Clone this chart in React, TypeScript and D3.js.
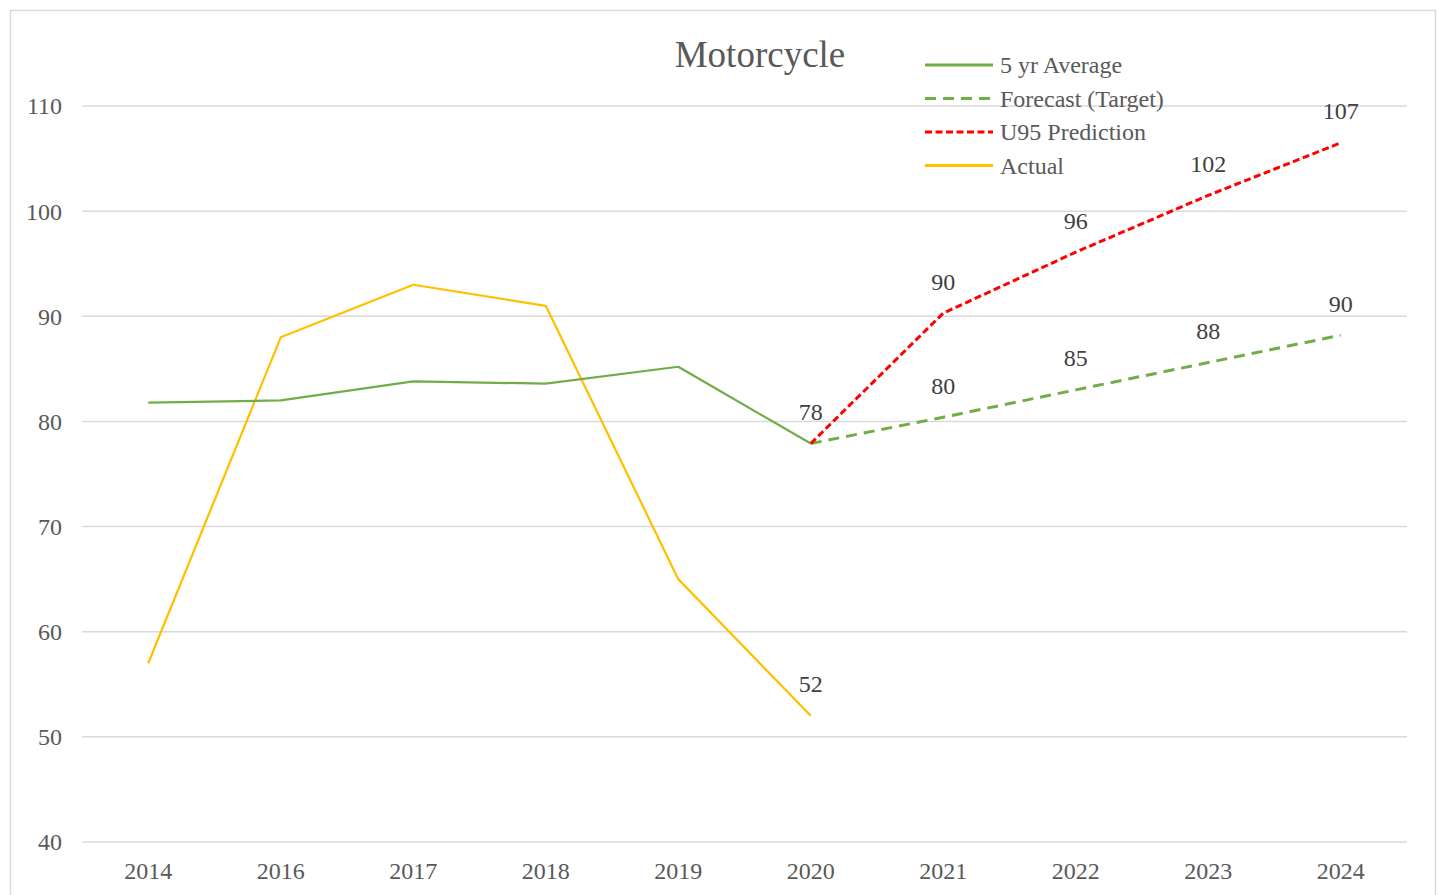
import React from 'react'
import * as d3 from 'd3'

const years = ['2014', '2016', '2017', '2018', '2019', '2020', '2021', '2022', '2023', '2024']
const avgYears = ['2014', '2016', '2017', '2018', '2019', '2020']
const avgValues = [81.8, 82.0, 83.8, 83.6, 85.2, 77.9]
const actualValues = [57, 88, 93, 91, 65, 52]
const futureYears = ['2020', '2021', '2022', '2023', '2024']
const forecastValues = [77.9, 80.4, 83.0, 85.6, 88.2]
const u95Values = [77.9, 90.3, 96.1, 101.5, 106.5]
const forecastLabels = ['80', '85', '88', '90']
const u95Labels = ['90', '96', '102', '107']
const yTicks = [40, 50, 60, 70, 80, 90, 100, 110]

const W = 1438
const H = 895
const FONT = '"Liberation Serif", "Times New Roman", serif'
const TEXT = '#595959'
const GREEN = '#70AD47'
const RED = '#FF0000'
const GOLD = '#FFC000'

const legend = [
  { name: '5 yr Average', color: GREEN, dash: undefined },
  { name: 'Forecast (Target)', color: GREEN, dash: '11 7' },
  { name: 'U95 Prediction', color: RED, dash: '7 3.5' },
  { name: 'Actual', color: GOLD, dash: undefined }
]

export default function App() {
  const x = d3.scalePoint<string>().domain(years).range([82, 1407]).padding(0.5)
  const y = d3.scaleLinear().domain([40, 110]).range([842, 106])

  const line = d3
    .line<[string, number]>()
    .x((d) => x(d[0]) as number)
    .y((d) => y(d[1]))

  const avgPts = avgYears.map((yr, i) => [yr, avgValues[i]] as [string, number])
  const actPts = avgYears.map((yr, i) => [yr, actualValues[i]] as [string, number])
  const fcPts = futureYears.map((yr, i) => [yr, forecastValues[i]] as [string, number])
  const u95Pts = futureYears.map((yr, i) => [yr, u95Values[i]] as [string, number])

  return (
    <div style={{ position: 'absolute', left: 0, top: 0 }}>
      <svg width={W} height={H} style={{ display: 'block', background: '#fff' }}>
        <rect x={10.5} y={10.5} width={1425} height={900} fill="#fff" stroke="#D9D9D9" strokeWidth={1.5} />

        {/* grid + y labels */}
        {yTicks.map((t) => (
          <g key={t}>
            <line x1={82} x2={1407} y1={y(t)} y2={y(t)} stroke="#D9D9D9" strokeWidth={1.5} />
            <text x={62} y={y(t)} dy="0.35em" textAnchor="end" fontFamily={FONT} fontSize={24} fill={TEXT}>
              {t}
            </text>
          </g>
        ))}

        {/* x labels */}
        {years.map((yr) => (
          <text key={yr} x={x(yr)} y={879} textAnchor="middle" fontFamily={FONT} fontSize={24} fill={TEXT}>
            {yr}
          </text>
        ))}

        <text x={760} y={67} textAnchor="middle" fontFamily={FONT} fontSize={37} fill={TEXT}>
          Motorcycle
        </text>

        {/* series */}
        <path d={line(actPts) || ''} fill="none" stroke={GOLD} strokeWidth={2.25} strokeLinejoin="round" />
        <path d={line(avgPts) || ''} fill="none" stroke={GREEN} strokeWidth={2.25} strokeLinejoin="round" />
        <path d={line(fcPts) || ''} fill="none" stroke={GREEN} strokeWidth={3} strokeDasharray="11 7" />
        <path d={line(u95Pts) || ''} fill="none" stroke={RED} strokeWidth={3} strokeDasharray="7 3.5" strokeLinejoin="round" />

        {/* data labels */}
        <text x={x('2020')} y={y(77.9) - 32} dy="0.35em" textAnchor="middle" fontFamily={FONT} fontSize={24} fill="#404040">
          78
        </text>
        <text x={x('2020')} y={y(52) - 32} dy="0.35em" textAnchor="middle" fontFamily={FONT} fontSize={24} fill="#404040">
          52
        </text>
        {forecastLabels.map((lb, i) => (
          <text key={'f' + lb} x={x(futureYears[i + 1])} y={y(forecastValues[i + 1]) - 32} dy="0.35em" textAnchor="middle" fontFamily={FONT} fontSize={24} fill="#404040">
            {lb}
          </text>
        ))}
        {u95Labels.map((lb, i) => (
          <text key={'u' + lb} x={x(futureYears[i + 1])} y={y(u95Values[i + 1]) - 32} dy="0.35em" textAnchor="middle" fontFamily={FONT} fontSize={24} fill="#404040">
            {lb}
          </text>
        ))}

        {/* legend */}
        {legend.map((l, i) => (
          <g key={l.name} transform={`translate(925, ${65 + i * 33.5})`}>
            <line x1={0} x2={68} y1={0} y2={0} stroke={l.color} strokeWidth={3} strokeDasharray={l.dash} />
            <text x={75} y={0} dy="0.35em" fontFamily={FONT} fontSize={24} fill={TEXT}>
              {l.name}
            </text>
          </g>
        ))}
      </svg>
    </div>
  )
}
